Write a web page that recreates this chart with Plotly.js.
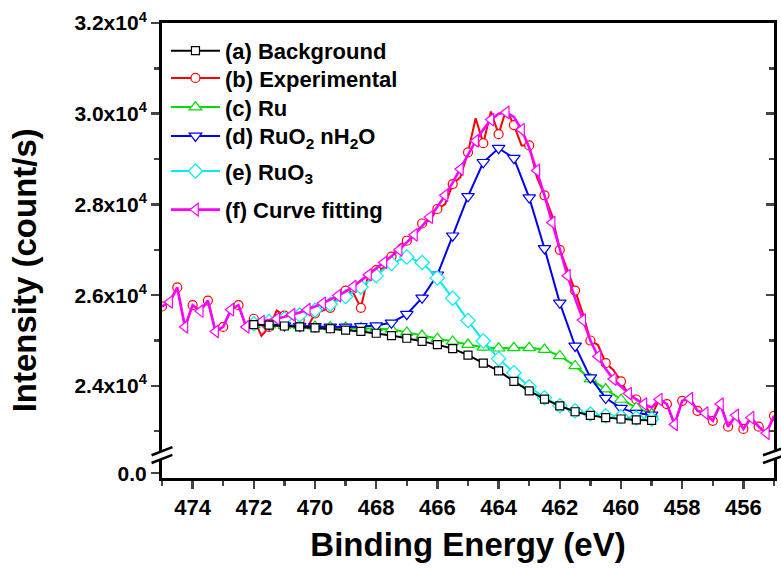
<!DOCTYPE html>
<html><head><meta charset="utf-8">
<script src="https://cdn.plot.ly/plotly-3.0.1.min.js"></script>
<style>html,body{margin:0;padding:0;background:#fff;}#chart{width:781px;height:571px;}</style>
</head><body><div id="chart"></div>
<script>
// Binding energy grid of the measured scan (eV)
const energyScan = [475,
  474.75, 474.5, 474.25, 474, 473.75, 473.5, 473.25, 473, 472.75, 472.5, 472.25, 472,
  471.75, 471.5, 471.25, 471, 470.75, 470.5, 470.25, 470, 469.75, 469.5, 469.25, 469,
  468.75, 468.5, 468.25, 468, 467.75, 467.5, 467.25, 467, 466.75, 466.5, 466.25, 466,
  465.75, 465.5, 465.25, 465, 464.75, 464.5, 464.25, 464, 463.75, 463.5, 463.25, 463,
  462.75, 462.5, 462.25, 462, 461.75, 461.5, 461.25, 461, 460.75, 460.5, 460.25, 460,
  459.75, 459.5, 459.25, 459, 458.75, 458.5, 458.25, 458, 457.75, 457.5, 457.25, 457,
  456.75, 456.5, 456.25, 456, 455.75, 455.5, 455.25, 455];
// (b) Experimental (count/s)
const experimental = [25750,
  25850, 26170, 25300, 25780, 25650, 25880, 25200, 25300, 25680, 25780, 25300, 25480,
  25100, 25300, 25660, 25550, 25550, 25450, 25280, 25600, 25660, 25720, 26000, 26100,
  26050, 25720, 26470, 26550, 26600, 26850, 27100, 27200, 27300, 27580, 27650, 27900,
  28000, 28450, 28600, 29150, 29900, 29350, 30050, 29550, 30100, 29750, 29300, 29300,
  28600, 28200, 27750, 27000, 26550, 26100, 25600, 25000, 24900, 24500, 24350, 24100,
  23800, 23700, 23600, 23350, 23700, 23600, 23150, 23670, 23720, 23450, 23400, 23230,
  23600, 23100, 23350, 23050, 23300, 23100, 22960, 23340];
// (f) Curve fitting (count/s)
const curveFitting = [25750,
  25850, 26170, 25300, 25780, 25650, 25880, 25200, 25300, 25680, 25780, 25300, 25400,
  25420, 25450, 25480, 25520, 25570, 25620, 25680, 25750, 25820, 25900, 25990, 26080,
  26190, 26320, 26450, 26590, 26720, 26860, 27000, 27160, 27330, 27520, 27720, 27950,
  28200, 28480, 28780, 29100, 29400, 29650, 29870, 30000, 30030, 29930, 29650, 29250,
  28750, 28200, 27600, 27000, 26430, 25930, 25450, 25000, 24650, 24370, 24150, 23980,
  23830, 23700, 23600, 23520, 23700, 23600, 23150, 23670, 23720, 23450, 23400, 23230,
  23600, 23100, 23350, 23050, 23300, 23100, 22960, 23340];

// Binding energy grid of the fitted components (eV)
const energyFit = [472, 471.5, 471, 470.5, 470, 469.5, 469, 468.5, 468, 467.5, 467, 466.5, 466,
  465.5, 465, 464.5, 464, 463.5, 463, 462.5, 462, 461.5, 461, 460.5, 460, 459.5, 459];
// (a) Background
const background = [25350, 25340, 25320, 25300, 25280, 25260, 25230, 25200, 25160, 25110, 25050, 24980, 24910,
  24820, 24680, 24500, 24330, 24100, 23890, 23710, 23560, 23430, 23350, 23300, 23270, 23250, 23240];
// (c) Ru
const ru = [25350, 25340, 25330, 25320, 25310, 25300, 25290, 25280, 25270, 25250, 25180, 25110, 25040,
  24980, 24910, 24850, 24830, 24840, 24840, 24800, 24660, 24440, 24150, 23930, 23700, 23520, 23380];
// (d) RuO2 nH2O
const ruo2 = [25370, 25350, 25330, 25320, 25310, 25300, 25300, 25310, 25330, 25390, 25580, 25940, 26450,
  27310, 28180, 28930, 29240, 29020, 28150, 27030, 25830, 24880, 24180, 23730, 23510, 23400, 23360];
// (e) RuO3
const ruo3 = [25370, 25420, 25480, 25560, 25670, 25800, 25970, 26180, 26430, 26700, 26840, 26720, 26380,
  25930, 25440, 24990, 24600, 24290, 23980, 23740, 23560, 23450, 23380, 23340, 23320, 23290, 23270];

const seriesNames = ['(a) Background', '(b) Experimental', '(c) Ru',
  '(d) RuO<sub>2</sub> nH<sub>2</sub>O', '(e) RuO<sub>3</sub>', '(f) Curve fitting'];
const legendIds = ['legend', 'legend2', 'legend3', 'legend4', 'legend5', 'legend6'];
const legendTops = [0.985, 0.925, 0.861, 0.7976, 0.7204, 0.6356];
const yTickVals = [24000, 26000, 28000, 30000, 32000];
const yTickText = ['2.4x10<sup>4</sup>', '2.6x10<sup>4</sup>', '2.8x10<sup>4</sup>', '3.0x10<sup>4</sup>', '3.2x10<sup>4</sup>'];
const lowTickVals = [0];
const lowTickText = ['0.0'];
const xTickVals = [474, 472, 470, 468, 466, 464, 462, 460, 458, 456];

const FONT = 'Liberation Sans, Arial, Helvetica, sans-serif';

function mk(i, x, y, color, symbol, size, width, maxd, xa, ya) {
  return {
    type: 'scatter', mode: 'lines+markers', x: x, y: y, name: seriesNames[i],
    legend: legendIds[i], xaxis: xa || 'x', yaxis: ya || 'y',
    line: {color: color, width: width},
    marker: {symbol: symbol, size: size, color: 'white', line: {color: color, width: 1.2}, maxdisplayed: maxd || 0}
  };
}

const traces = [
  mk(0, energyFit, background, '#000000', 'square', 8, 2, 0, 'x2', 'y3'),
  mk(1, energyScan, experimental, '#ff0000', 'circle', 9, 2, 41),
  mk(2, energyFit, ru, '#00dd00', 'triangle-up', 11, 2, 0),
  mk(3, energyFit, ruo2, '#0000ee', 'triangle-down', 11, 2, 0),
  mk(4, energyFit, ruo3, '#00eeee', 'diamond', 11, 2, 0),
  mk(5, energyScan, curveFitting, '#ff00ff', 'triangle-left', 11, 2.6, 41),
  // lower (broken) segment of the y axis: same scan, all values fall outside its 0.0 window
  {type: 'scatter', mode: 'lines', x: energyScan, y: experimental, xaxis: 'x', yaxis: 'y2',
   showlegend: false, hoverinfo: 'skip', opacity: 0, line: {width: 0, color: '#ff0000'}}
];

const xRange = [475, 455];
const yRange = [22564, 32000];
const upperBottom = 0.0593, lowerTop = 0.0418;
const yTickFont = {family: FONT, size: 21, color: '#000', weight: 'bold'};
const xTickFont = {family: FONT, size: 22, color: '#000', weight: 'bold'};
const legendFont = {family: FONT, size: 22, color: '#000', weight: 'bold'};

const layout = {
  width: 781, height: 571,
  margin: {l: 162, r: 7, t: 23, b: 93},
  paper_bgcolor: '#fff', plot_bgcolor: 'rgba(0,0,0,0)',
  showlegend: true,
  xaxis: {domain: [0, 1], anchor: 'y2', range: xRange, tickvals: xTickVals, ticks: 'outside', ticklen: 8, tickwidth: 2.5,
    minor: {dtick: 1, tick0: 0, ticks: 'outside', ticklen: 5, tickwidth: 2.5},
    showline: true, linewidth: 3, linecolor: '#000', showgrid: false, zeroline: false, tickfont: xTickFont,
    title: {text: 'Binding Energy (eV)', font: {family: FONT, size: 33, color: '#000', weight: 'bold'}, standoff: 14}},
  xaxis2: {overlaying: 'x', anchor: 'y', side: 'top', range: xRange, showline: true, linewidth: 3, linecolor: '#000',
    ticks: '', showticklabels: false, showgrid: false, zeroline: false},
  yaxis: {domain: [upperBottom, 1], anchor: 'x', range: yRange, tickvals: yTickVals, ticktext: yTickText,
    ticks: 'outside', ticklen: 8, tickwidth: 2.5,
    minor: {dtick: 1000, tick0: 0, ticks: 'outside', ticklen: 5, tickwidth: 2.5},
    showline: true, linewidth: 3, linecolor: '#000', showgrid: false, zeroline: false, tickfont: yTickFont},
  yaxis3: {overlaying: 'y', anchor: 'x', side: 'right', range: yRange, tickvals: yTickVals, ticks: 'inside', ticklen: 8, tickwidth: 2.5,
    minor: {dtick: 1000, tick0: 0, ticks: 'inside', ticklen: 5, tickwidth: 2.5},
    showticklabels: false, showline: true, linewidth: 3, linecolor: '#000', showgrid: false, zeroline: false},
  yaxis2: {domain: [0, lowerTop], anchor: 'x', range: [-0.25, 0.75], tickvals: lowTickVals, ticktext: lowTickText,
    ticks: 'outside', ticklen: 8, tickwidth: 2.5, mirror: true,
    showline: true, linewidth: 3, linecolor: '#000', showgrid: false, zeroline: false, tickfont: yTickFont},
  annotations: [{text: 'Intensity (count/s)', xref: 'paper', yref: 'paper', x: -0.225, y: 0.457, textangle: -90,
    showarrow: false, xanchor: 'center', yanchor: 'middle',
    font: {family: FONT, size: 33, color: '#000', weight: 'bold'}}],
  shapes: [
    {type: 'line', xref: 'paper', yref: 'paper', x0: -0.017, y0: 0.050, x1: 0.017, y1: 0.068, line: {color: '#000', width: 2.5}},
    {type: 'line', xref: 'paper', yref: 'paper', x0: -0.017, y0: 0.033, x1: 0.017, y1: 0.051, line: {color: '#000', width: 2.5}},
    {type: 'line', xref: 'paper', yref: 'paper', x0: 0.982, y0: 0.050, x1: 1.02, y1: 0.068, line: {color: '#000', width: 2.5}},
    {type: 'line', xref: 'paper', yref: 'paper', x0: 0.982, y0: 0.033, x1: 1.02, y1: 0.051, line: {color: '#000', width: 2.5}}
  ]
};
legendIds.forEach(function (id, i) {
  layout[id] = {x: 0.0065, y: legendTops[i], xanchor: 'left', yanchor: 'top', bgcolor: 'rgba(0,0,0,0)',
    font: legendFont, itemwidth: 49};
});

Plotly.newPlot('chart', traces, layout, {displayModeBar: false, staticPlot: true});
</script></body></html>
